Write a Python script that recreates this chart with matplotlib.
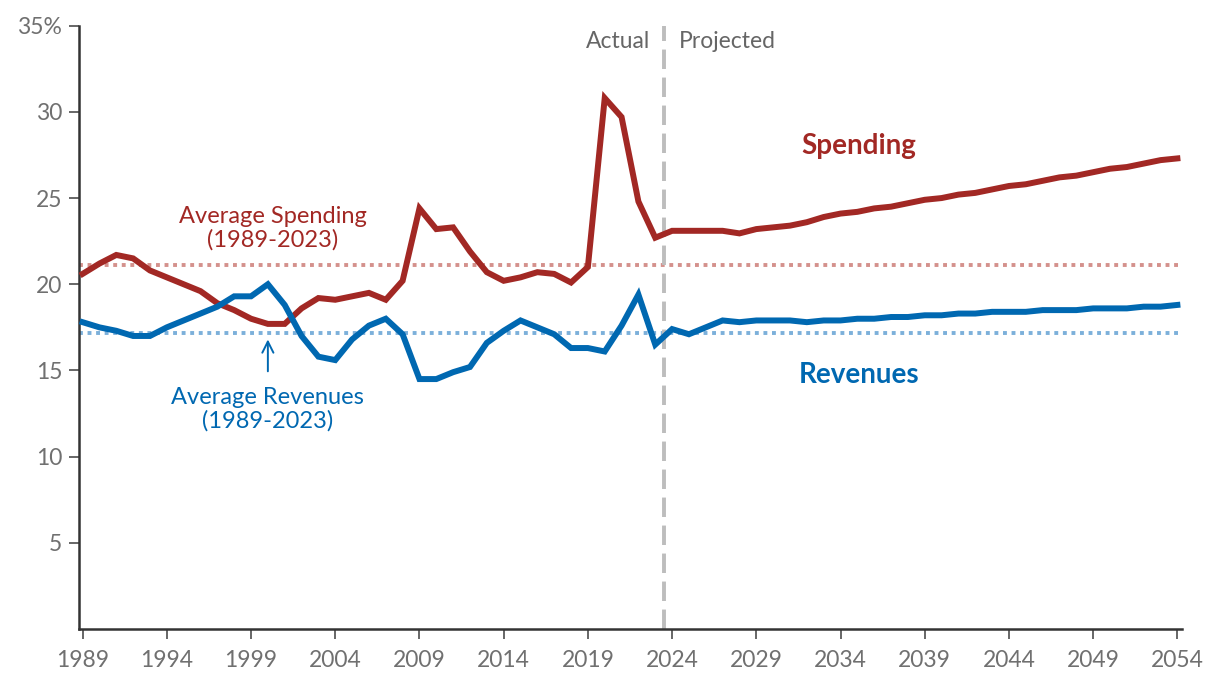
import numpy as np
import matplotlib.pyplot as plt

plt.rcParams['font.family'] = ['Lato', 'DejaVu Sans']

# -----------------------------
# Data (% of GDP)
# -----------------------------
years = np.arange(1989, 2055)

spending = [20.6, 21.2, 21.7, 21.5, 20.8, 20.4, 20.0, 19.6, 18.9, 18.5,
            18.0, 17.7, 17.7, 18.6, 19.2, 19.1, 19.3, 19.5, 19.1, 20.2,
            24.4, 23.2, 23.3, 21.9, 20.7, 20.2, 20.4, 20.7, 20.6, 20.1,
            21.0, 30.8, 29.7, 24.8, 22.7,
            23.1, 23.1, 23.1, 23.1, 22.95, 23.2, 23.3, 23.4, 23.6, 23.9,
            24.1, 24.2, 24.4, 24.5, 24.7, 24.9, 25.0, 25.2, 25.3, 25.5,
            25.7, 25.8, 26.0, 26.2, 26.3, 26.5, 26.7, 26.8, 27.0, 27.2, 27.3]

revenues = [17.8, 17.5, 17.3, 17.0, 17.0, 17.5, 17.9, 18.3, 18.7, 19.3,
            19.3, 20.0, 18.8, 17.0, 15.8, 15.6, 16.8, 17.6, 18.0, 17.1,
            14.5, 14.5, 14.9, 15.2, 16.6, 17.3, 17.9, 17.5, 17.1, 16.3,
            16.3, 16.1, 17.6, 19.4, 16.5,
            17.4, 17.1, 17.5, 17.9, 17.8, 17.9, 17.9, 17.9, 17.8, 17.9,
            17.9, 18.0, 18.0, 18.1, 18.1, 18.2, 18.2, 18.3, 18.3, 18.4,
            18.4, 18.4, 18.5, 18.5, 18.5, 18.6, 18.6, 18.6, 18.7, 18.7, 18.8]

avg_spending = 21.1
avg_revenues = 17.2
split_year = 2023.5

xticks = np.arange(1989, 2055, 5)
yticks = [5, 10, 15, 20, 25, 30, 35]
ytick_labels = ['5', '10', '15', '20', '25', '30', '35%']

red = '#A22824'
blue = '#0068B1'
grey_text = '#707070'

# -----------------------------
# Plot
# -----------------------------
fig = plt.figure(figsize=(12.2, 6.88), dpi=100)
ax = fig.add_axes([0.0648, 0.0857, 0.9040, 0.8770])

ax.axhline(avg_spending, color='#D4918C', lw=2.8, ls=(0, (1, 1.2)), zorder=1)
ax.axhline(avg_revenues, color='#7CB0DA', lw=2.8, ls=(0, (1, 1.2)), zorder=1)
ax.axvline(split_year, color='#BDBDBD', lw=2.8, ls=(0, (5, 2.2)), zorder=1)

ax.plot(years, spending, color=red, lw=4.3, solid_joinstyle='miter', zorder=3)
ax.plot(years, revenues, color=blue, lw=4.3, solid_joinstyle='miter', zorder=3)

ax.set_xlim(1988.79, 2054.27)
ax.set_ylim(0, 35)
ax.set_xticks(xticks)
ax.set_yticks(yticks)
ax.set_yticklabels(ytick_labels)

for side in ['top', 'right']:
    ax.spines[side].set_visible(False)
for side in ['left', 'bottom']:
    ax.spines[side].set_color('#333333')
    ax.spines[side].set_linewidth(1.8)

ax.tick_params(axis='both', colors='#666666', labelcolor=grey_text,
               labelsize=16.5, length=7, width=1.4, direction='out')
ax.tick_params(axis='x', pad=8)
ax.tick_params(axis='y', pad=5)

# Annotations
ax.text(2000.3, 23.25, 'Average Spending\n(1989-2023)', color=red,
        fontsize=17, ha='center', va='center', linespacing=1.15)
ax.text(2000.0, 12.75, 'Average Revenues\n(1989-2023)', color=blue,
        fontsize=17, ha='center', va='center', linespacing=1.15)
ax.annotate('', xy=(2000.0, 16.8), xytext=(2000.0, 14.95),
            arrowprops=dict(arrowstyle='->', color=blue, lw=1.4,
                            mutation_scale=20, shrinkA=0, shrinkB=0))

ax.text(2035.1, 28.0, 'Spending', color=red, fontsize=20,
        fontweight='bold', ha='center', va='center')
ax.text(2035.1, 14.73, 'Revenues', color=blue, fontsize=20,
        fontweight='bold', ha='center', va='center')

ax.text(2022.7, 34.1, 'Actual', color='#666666', fontsize=16.5,
        ha='right', va='center')
ax.text(2024.4, 34.1, 'Projected', color='#666666', fontsize=16.5,
        ha='left', va='center')

plt.savefig('out.png', dpi=100)
plt.close()
